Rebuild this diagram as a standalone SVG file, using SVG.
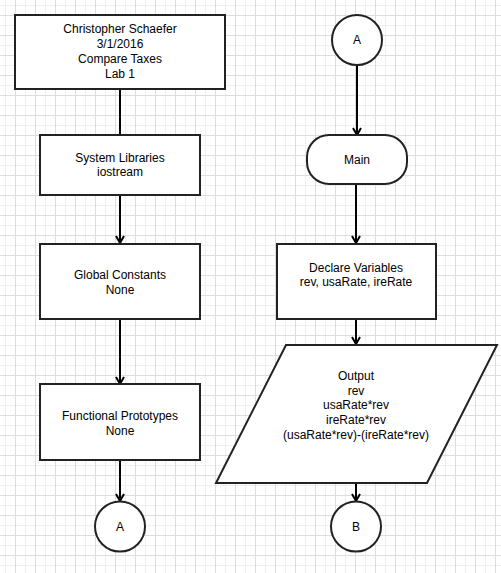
<svg xmlns="http://www.w3.org/2000/svg" width="501" height="573" viewBox="0 0 501 573">
  <style>
    .shape { fill: #ffffff; stroke: #222222; stroke-width: 2; }
    .label { font-family: "Liberation Sans", Arial, sans-serif; font-size: 12px; fill: #000000; text-anchor: middle; }
    .edge { fill: none; stroke: #000000; stroke-width: 2; }
  </style>
  <defs>
    <pattern id="grid" x="0" y="0" width="20" height="20" patternUnits="userSpaceOnUse">
      <rect x="5" y="0" width="1" height="20" fill="#eeeef5"/>
      <rect x="0" y="5" width="20" height="1" fill="#eeeef5"/>
      <rect x="15" y="0" width="1" height="20" fill="#dcdce9"/>
      <rect x="0" y="15" width="20" height="1" fill="#dcdce9"/>
    </pattern>
    <marker id="arrow" viewBox="0 0 10 10" refX="8" refY="5" markerWidth="10" markerHeight="10" markerUnits="userSpaceOnUse" orient="auto">
      <path d="M1,1 L8,5 L1,9" fill="none" stroke="#000000" stroke-width="2"/>
    </marker>
  </defs>

  <!-- background grid -->
  <rect x="0" y="0" width="501" height="573" fill="#ffffff"/>
  <rect x="0" y="0" width="501" height="573" fill="url(#grid)"/>

  <!-- connectors -->
  <g id="connectors">
    <line class="edge" x1="120" y1="89" x2="120" y2="135"/>
    <line class="edge" x1="120" y1="195" x2="120" y2="243" marker-end="url(#arrow)"/>
    <line class="edge" x1="120" y1="319" x2="120" y2="384" marker-end="url(#arrow)"/>
    <line class="edge" x1="120" y1="460" x2="120" y2="501" marker-end="url(#arrow)"/>
    <line class="edge" x1="357" y1="65" x2="357" y2="135" marker-end="url(#arrow)"/>
    <line class="edge" x1="356" y1="184" x2="356" y2="243" marker-end="url(#arrow)"/>
    <line class="edge" x1="356" y1="319" x2="356" y2="344" marker-end="url(#arrow)"/>
    <line class="edge" x1="356" y1="483" x2="356" y2="501" marker-end="url(#arrow)"/>
  </g>

  <!-- left column -->
  <g id="header">
    <rect class="shape" x="15" y="15" width="210" height="74"/>
    <text class="label" x="120" y="33">Christopher Schaefer</text>
    <text class="label" x="120" y="48">3/1/2016</text>
    <text class="label" x="120" y="63">Compare Taxes</text>
    <text class="label" x="120" y="78">Lab 1</text>
  </g>
  <g id="system-libraries">
    <rect class="shape" x="40" y="135" width="160" height="60"/>
    <text class="label" x="120" y="161.5">System Libraries</text>
    <text class="label" x="120" y="176">iostream</text>
  </g>
  <g id="global-constants">
    <rect class="shape" x="40" y="244" width="160" height="75"/>
    <text class="label" x="120" y="279">Global Constants</text>
    <text class="label" x="120" y="293.5">None</text>
  </g>
  <g id="functional-prototypes">
    <rect class="shape" x="40" y="384" width="160" height="76"/>
    <text class="label" x="120" y="420">Functional Prototypes</text>
    <text class="label" x="120" y="434.5">None</text>
  </g>
  <g id="connector-a-out">
    <circle class="shape" cx="120" cy="526.5" r="25"/>
    <text class="label" x="120" y="530.5">A</text>
  </g>

  <!-- right column -->
  <g id="connector-a-in">
    <circle class="shape" cx="357" cy="40" r="25"/>
    <text class="label" x="357" y="44">A</text>
  </g>
  <g id="main">
    <rect class="shape" x="307" y="135" width="100" height="49" rx="22" ry="22"/>
    <text class="label" x="357" y="164">Main</text>
  </g>
  <g id="declare-variables">
    <rect class="shape" x="277" y="244" width="159" height="75"/>
    <text class="label" x="356" y="271.5">Declare Variables</text>
    <text class="label" x="356" y="286">rev, usaRate, ireRate</text>
  </g>
  <g id="output">
    <polygon class="shape" points="286,345 497,345 427,483 216,483"/>
    <text class="label" x="356" y="380">Output</text>
    <text class="label" x="356" y="394.5">rev</text>
    <text class="label" x="356" y="409">usaRate*rev</text>
    <text class="label" x="356" y="424">ireRate*rev</text>
    <text class="label" x="356" y="439">(usaRate*rev)-(ireRate*rev)</text>
  </g>
  <g id="connector-b">
    <circle class="shape" cx="356" cy="526.5" r="25"/>
    <text class="label" x="356" y="530.5">B</text>
  </g>
</svg>
